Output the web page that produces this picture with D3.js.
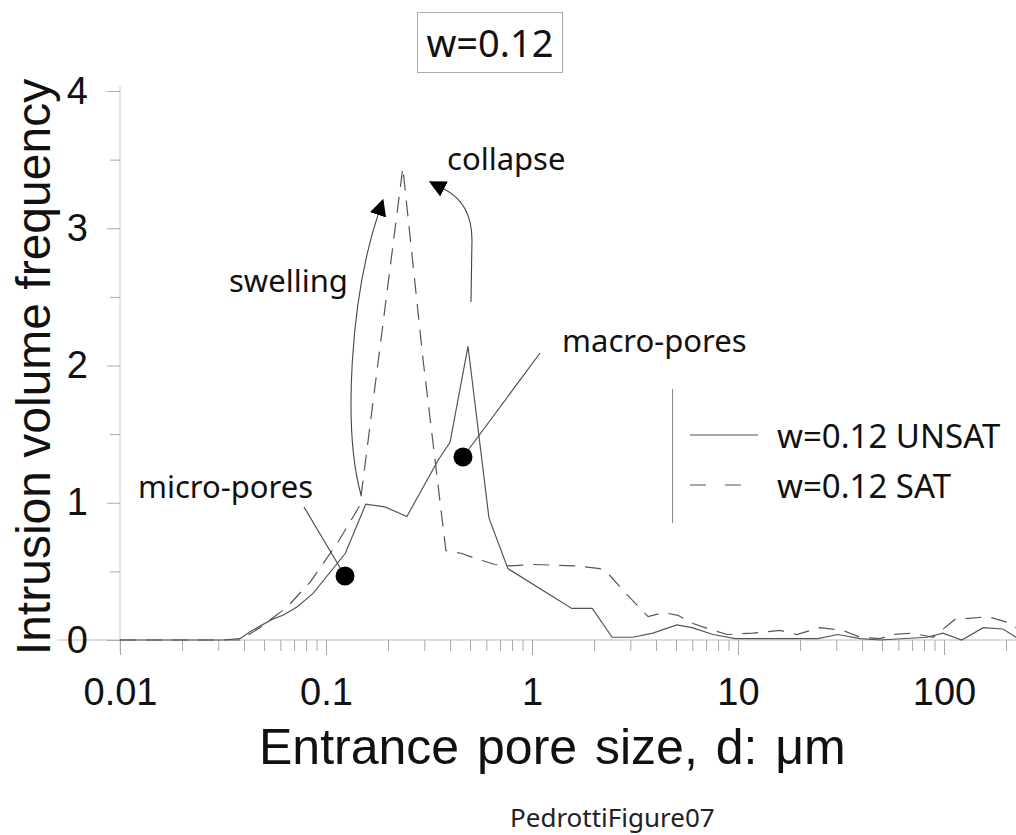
<!DOCTYPE html>
<html>
<head>
<meta charset="utf-8">
<script src="https://cdn.jsdelivr.net/npm/d3@7"></script>
<style>
  body { margin: 0; background: #fff; }
  svg { display: block; }
</style>
</head>
<body>
<div class="container"></div>
<script>
// pore size distribution, w=0.12, unsat vs sat

var settings = { w: 1016, h: 835 };

// entrance pore size d (um) and intrusion volume frequency
var unsatD = [0.01, 0.0316, 0.0382, 0.0428, 0.0547, 0.0618, 0.0723, 0.0865, 0.124, 0.156, 0.193, 0.247, 0.350, 0.40, 0.489, 0.618, 0.764, 1.56, 1.96, 2.45, 3.09, 3.86, 5.05, 5.98, 7.57, 9.67, 24.4, 30.6, 39.1, 48.9, 82.6, 98.8, 122, 155, 193, 224];
var unsatV = [0, 0, 0.01, 0.06, 0.15, 0.18, 0.24, 0.34, 0.63, 0.99, 0.97, 0.90, 1.31, 1.44, 2.14, 0.89, 0.52, 0.23, 0.23, 0.02, 0.02, 0.05, 0.11, 0.09, 0.04, 0.01, 0.01, 0.04, 0.01, 0.0, 0.02, 0.05, 0.0, 0.09, 0.08, 0.02];

var satD = [0.01, 0.0316, 0.0382, 0.0478, 0.0647, 0.0836, 0.114, 0.146, 0.236, 0.296, 0.382, 0.457, 0.541, 0.661, 0.782, 1.01, 1.65, 2.14, 2.39, 2.77, 3.66, 4.33, 5.11, 6.05, 7.57, 8.85, 11.8, 16.0, 19.3, 25.0, 32.3, 39.1, 48.9, 56.5, 69.9, 88.5, 113, 164, 202, 224];
var satV = [0, 0, 0.0, 0.09, 0.24, 0.42, 0.71, 0.98, 3.44, 2.04, 0.65, 0.63, 0.59, 0.55, 0.54, 0.55, 0.54, 0.52, 0.47, 0.36, 0.17, 0.20, 0.18, 0.12, 0.07, 0.04, 0.05, 0.07, 0.04, 0.09, 0.07, 0.02, 0.01, 0.04, 0.05, 0.02, 0.15, 0.17, 0.13, 0.09];

var xMajor = [0.01, 0.1, 1, 10, 100];
var xMajorLabels = ["0.01", "0.1", "1", "10", "100"];
var yMajor = [0, 1, 2, 3, 4];
var yMinor = [0.5, 1.5, 2.5, 3.5];

var seriesNames = ["w=0.12 UNSAT", "w=0.12 SAT"];

// annotation points (d, value)
var dotD = [0.1237, 0.4624];
var dotV = [0.466, 1.333];
var leaderFromD = [0.0782, 1.094];
var leaderFromV = [0.969, 2.091];
// swelling / collapse arrows as [d, v] control points
var swellPts = [[0.148, 1.056], [0.1209, 1.530], [0.1308, 2.477], [0.1788, 3.097]];
var collapsePts = [[0.5056, 2.463], [0.5112, 2.914], [0.5112, 3.100], [0.4573, 3.220], [0.3739, 3.286]];

var x = d3.scaleLog().domain([0.01, 1000]).range([120, 1150]);
var y = d3.scaleLinear().domain([0, 4]).range([640, 91]);

// minor ticks 2..9 per decade
var xMinor = [];
xMajor.concat([1000]).forEach(function (m) {
  for (var k = 2; k <= 9; k++) { if (m * k < 300) xMinor.push(m * k); }
});

var svg = d3.select(".container").append("svg")
  .attr("width", settings.w)
  .attr("height", settings.h);

var tickColor = "#aaa";
var labelFont = "'Liberation Sans', Arial, sans-serif";
var noteFont = "'Noto Sans', 'Open Sans', sans-serif";

// axis lines
svg.append("line")
  .attr("x1", 57).attr("x2", settings.w)
  .attr("y1", y(0)).attr("y2", y(0))
  .style("stroke", "#bbb");
svg.append("line")
  .attr("x1", x(0.01)).attr("x2", x(0.01))
  .attr("y1", y(4) - 5).attr("y2", y(0) + 12)
  .style("stroke", "#ccc");

// x minor ticks
var xMinAxis = svg.append("g")
  .attr("transform", "translate(0," + y(0) + ")")
  .call(d3.axisBottom(x).tickValues(xMinor).tickSize(11).tickFormat(""));
// x major ticks + labels
var xMajAxis = svg.append("g")
  .attr("transform", "translate(0," + y(0) + ")")
  .call(d3.axisBottom(x).tickValues(xMajor).tickSize(15).tickPadding(23)
    .tickFormat(function (d, i) { return xMajorLabels[i]; }));

var yMinAxis = svg.append("g")
  .attr("transform", "translate(" + x(0.01) + ",0)")
  .call(d3.axisLeft(y).tickValues(yMinor).tickSize(10).tickFormat(""));
var yMajAxis = svg.append("g")
  .attr("transform", "translate(" + x(0.01) + ",0)")
  .call(d3.axisLeft(y).tickValues(yMajor).tickSize(13).tickPadding(19).tickFormat(d3.format("d")));

[xMinAxis, xMajAxis, yMinAxis, yMajAxis].forEach(function (g) {
  g.select(".domain").remove();
  g.selectAll(".tick line").style("stroke", tickColor);
  g.selectAll(".tick text")
    .style("font-family", labelFont)
    .style("font-size", "38px")
    .style("fill", "#111");
});

// axis titles
svg.append("text")
  .attr("transform", "translate(50,367) rotate(-90)")
  .attr("text-anchor", "middle")
  .style("font-family", labelFont)
  .style("font-size", "48px")
  .style("fill", "#111")
  .text("Intrusion volume frequency");

svg.append("text")
  .attr("x", 259).attr("y", 764)
  .style("font-family", labelFont)
  .style("font-size", "50px")
  .style("word-spacing", "4px")
  .style("fill", "#111")
  .text("Entrance pore size, d: \u03bcm");

svg.append("text")
  .attr("x", 510).attr("y", 827)
  .style("font-family", noteFont)
  .style("font-size", "26px")
  .style("fill", "#222")
  .text("PedrottiFigure07");

// data lines
var line = d3.line()
  .x(function (d) { return x(d[0]); })
  .y(function (d) { return y(d[1]); });

var unsatData = d3.zip(unsatD, unsatV);
var satData = d3.zip(satD, satV);

svg.append("path")
  .datum(unsatData)
  .attr("d", line)
  .style("fill", "none")
  .style("stroke", "#555")
  .style("stroke-width", 1.2);

svg.append("path")
  .datum(satData)
  .attr("d", line)
  .style("fill", "none")
  .style("stroke", "#555")
  .style("stroke-width", 1.2)
  .style("stroke-dasharray", "16,10");

// annotations
var defs = svg.append("defs");
defs.append("marker")
  .attr("id", "head")
  .attr("markerUnits", "userSpaceOnUse")
  .attr("markerWidth", 20).attr("markerHeight", 20)
  .attr("viewBox", "0 -10 20 20")
  .attr("refX", 0).attr("refY", 0)
  .attr("orient", "auto")
  .append("path")
  .attr("d", "M0,-8.5L17,0L0,8.5Z")
  .style("fill", "#000");

function px(p) { return [x(p[0]), y(p[1])]; }

var s = swellPts.map(px);
svg.append("path")
  .attr("d", "M" + s[0] + "C" + s[1] + " " + s[2] + " " + s[3])
  .style("fill", "none").style("stroke", "#444").style("stroke-width", 1.1)
  .attr("marker-end", "url(#head)");

var c = collapsePts.map(px);
svg.append("path")
  .attr("d", "M" + c[0] + "L" + c[1] + "C" + c[2] + " " + c[3] + " " + c[4])
  .style("fill", "none").style("stroke", "#444").style("stroke-width", 1.1)
  .attr("marker-end", "url(#head)");

svg.selectAll("line.leader")
  .data(d3.range(dotD.length))
  .enter().append("line")
  .attr("class", "leader")
  .attr("x1", function (i) { return x(leaderFromD[i]); })
  .attr("y1", function (i) { return y(leaderFromV[i]); })
  .attr("x2", function (i) { return x(dotD[i]); })
  .attr("y2", function (i) { return y(dotV[i]); })
  .style("stroke", "#444").style("stroke-width", 1.1);

svg.selectAll("circle.dot")
  .data(d3.range(dotD.length))
  .enter().append("circle")
  .attr("class", "dot")
  .attr("cx", function (i) { return x(dotD[i]); })
  .attr("cy", function (i) { return y(dotV[i]); })
  .attr("r", 9.5)
  .style("fill", "#000");

var notes = [
  { t: "swelling", x: 229, y: 292 },
  { t: "collapse", x: 447, y: 170 },
  { t: "micro-pores", x: 138, y: 498 },
  { t: "macro-pores", x: 562, y: 352 }
];
svg.selectAll("text.note")
  .data(notes)
  .enter().append("text")
  .attr("class", "note")
  .attr("x", function (d) { return d.x; })
  .attr("y", function (d) { return d.y; })
  .style("font-family", noteFont)
  .style("font-size", "31px")
  .style("fill", "#111")
  .text(function (d) { return d.t; });

// title box
svg.append("rect")
  .attr("x", 417.5).attr("y", 12.5)
  .attr("width", 145).attr("height", 60)
  .style("fill", "#fff").style("stroke", "#aaa");
svg.append("text")
  .attr("x", 490).attr("y", 57)
  .attr("text-anchor", "middle")
  .style("font-family", noteFont)
  .style("font-size", "38px")
  .style("fill", "#111")
  .text("w=0.12");

// legend
svg.append("line")
  .attr("x1", 672.5).attr("x2", 672.5).attr("y1", 389).attr("y2", 523)
  .style("stroke", "#888");
var legend = svg.selectAll("g.legend")
  .data(seriesNames)
  .enter().append("g")
  .attr("class", "legend")
  .attr("transform", function (d, i) { return "translate(0," + (i * 50) + ")"; });
legend.append("line")
  .attr("x1", 690).attr("x2", function (d, i) { return i ? 742 : 758; })
  .attr("y1", 435).attr("y2", 435)
  .style("stroke", "#555").style("stroke-width", 1.2)
  .style("stroke-dasharray", function (d, i) { return i ? "16,19" : null; });
legend.append("text")
  .attr("x", 777).attr("y", 448)
  .style("font-family", noteFont)
  .style("font-size", "33px")
  .style("fill", "#111")
  .text(function (d) { return d; });
</script>
</body>
</html>
